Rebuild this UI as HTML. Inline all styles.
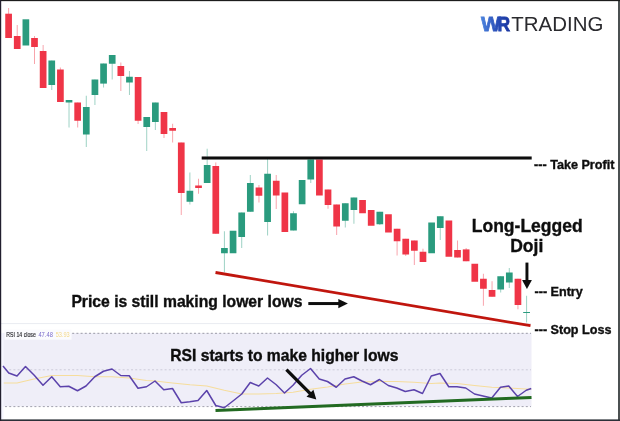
<!DOCTYPE html>
<html><head><meta charset="utf-8"><title>chart</title>
<style>
html,body{margin:0;padding:0;background:#fff;}
body{width:620px;height:421px;overflow:hidden;font-family:"Liberation Sans",sans-serif;}
svg{display:block;will-change:transform}
text{font-family:"Liberation Sans",sans-serif;}
.b{font-weight:bold;fill:#0c0c0c;stroke:#0c0c0c;stroke-width:0.35px}
</style></head><body>
<svg width="620" height="421" viewBox="0 0 620 421">
<defs>
<linearGradient id="lg" gradientUnits="userSpaceOnUse" x1="481" y1="0" x2="510" y2="0"><stop offset="0" stop-color="#4c84de"/><stop offset="0.55" stop-color="#2a4fb8"/><stop offset="1" stop-color="#18339f"/></linearGradient>
<filter id="soft" x="-2%" y="-2%" width="104%" height="104%"><feGaussianBlur stdDeviation="0.35"/></filter>
</defs>
<rect x="0" y="0" width="620" height="421" fill="#ffffff"/>
<g filter="url(#soft)">
<!-- RSI panel -->
<rect x="1" y="333" width="530.5" height="73.5" fill="#efeef8"/>
<rect x="1" y="333" width="2.5" height="86" fill="#f6f6ff"/>
<line x1="1" y1="323.6" x2="531" y2="323.6" stroke="#e9ecf1" stroke-width="1"/>
<line x1="5" y1="333.3" x2="531" y2="333.3" stroke="#9a9aa6" stroke-width="1" stroke-dasharray="2 2.2"/>
<line x1="5" y1="369.8" x2="531" y2="369.8" stroke="#cccbd9" stroke-width="1" stroke-dasharray="2 2.2"/>
<line x1="5" y1="406.6" x2="531" y2="406.6" stroke="#a2a2ae" stroke-width="1" stroke-dasharray="2 2.2"/>
<rect x="4.5" y="329.5" width="67" height="10.2" fill="#fbfbfe"/>
<text x="6.3" y="336.5" font-size="7.5" fill="#26262c" stroke="#26262c" stroke-width="0.15" textLength="29.5" lengthAdjust="spacingAndGlyphs">RSI 14 close</text>
<text x="38.4" y="336.5" font-size="7.5" fill="#7a6ccc" textLength="14.5" lengthAdjust="spacingAndGlyphs">47.48</text>
<text x="55.7" y="336.5" font-size="7.5" fill="#f4d988" textLength="14" lengthAdjust="spacingAndGlyphs">53.93</text>
<polyline points="3.75,383 17,383 34,379 51.75,375.5 77.5,375.5 94.75,376.75 112,376.75 129.25,378 146.5,380.5 155,381 172.5,383 190,384.75 206.75,386 224.25,390.25 241.75,394 258.75,394 276.25,393.5 293,392.25 310.5,389.3 327.5,387 345,384 362,382 379.5,381.5 396.75,381.5 414,382.25 431.25,383.5 440,383 457,383.5 474.5,385.5 491.75,387.25 508.75,388 526.25,389 531.25,389.25" fill="none" stroke="#f6dd9c" stroke-width="1.1" stroke-linejoin="round"/>
<polyline points="3,366 8.75,373 17,376 25.5,366.5 34.25,375.25 43,385.25 51.75,376.75 60.25,386.75 68.75,386.25 77.5,390.75 86,386 94.75,376.75 103.5,371.25 112,369 120.75,375.5 129.25,375.75 138,388.25 146.5,386.75 155,381 163.75,389.75 172.5,388.5 181.25,402.75 189.75,401.75 198,400.5 206.75,390.5 215.75,405.5 224.25,407.75 233,401 241.75,394 250.25,382.5 258.75,386 267.5,378 276.25,384.75 284.5,393 293,385.25 301.75,375.25 310.5,368.5 319.25,379 327.5,381.5 336.25,387.25 345,379 353.75,376.75 362,381 370.5,384.75 379.5,379.5 388.25,385.5 396.75,388 405.25,391.5 414,389.75 422.5,393.5 431.25,376 440,373.5 448.75,386.75 457,386.75 465.75,388 474.5,394 483,396 491.75,398 500.5,387.25 508.75,386 517.5,396.5 526.25,390.25 531.25,388.5" fill="none" stroke="#5b43ab" stroke-width="1.5" stroke-linejoin="round"/>
<line x1="215.5" y1="410.4" x2="531.5" y2="397.5" stroke="#216a20" stroke-width="3"/>
<!-- candles -->
<line x1="8.60" y1="8" x2="8.60" y2="38" stroke="#ef3546" stroke-width="0.9" stroke-opacity="0.5"/>
<rect x="5.25" y="13.7" width="6.7" height="24.30" fill="#ef3546"/>
<line x1="17.23" y1="25" x2="17.23" y2="49" stroke="#ef3546" stroke-width="0.9" stroke-opacity="0.5"/>
<rect x="13.88" y="36" width="6.7" height="13.00" fill="#ef3546"/>
<rect x="22.52" y="19.3" width="6.7" height="26.20" fill="#2a9b7e"/>
<line x1="34.50" y1="36" x2="34.50" y2="64" stroke="#ef3546" stroke-width="0.9" stroke-opacity="0.5"/>
<rect x="31.15" y="38" width="6.7" height="9.00" fill="#ef3546"/>
<line x1="43.13" y1="45" x2="43.13" y2="88" stroke="#ef3546" stroke-width="0.9" stroke-opacity="0.5"/>
<rect x="39.78" y="51" width="6.7" height="37.00" fill="#ef3546"/>
<line x1="51.76" y1="60.5" x2="51.76" y2="90" stroke="#2a9b7e" stroke-width="0.9" stroke-opacity="0.5"/>
<rect x="48.41" y="60.5" width="6.7" height="24.50" fill="#2a9b7e"/>
<line x1="60.40" y1="67.5" x2="60.40" y2="102" stroke="#ef3546" stroke-width="0.9" stroke-opacity="0.5"/>
<rect x="57.05" y="69.5" width="6.7" height="32.50" fill="#ef3546"/>
<line x1="69.03" y1="100" x2="69.03" y2="127.5" stroke="#2a9b7e" stroke-width="0.9" stroke-opacity="0.5"/>
<rect x="65.68" y="100" width="6.7" height="2.50" fill="#2a9b7e"/>
<line x1="77.66" y1="102.5" x2="77.66" y2="127.5" stroke="#ef3546" stroke-width="0.9" stroke-opacity="0.5"/>
<rect x="74.31" y="102.5" width="6.7" height="18.25" fill="#ef3546"/>
<line x1="86.30" y1="95.75" x2="86.30" y2="147" stroke="#2a9b7e" stroke-width="0.9" stroke-opacity="0.5"/>
<rect x="82.95" y="107" width="6.7" height="27.50" fill="#2a9b7e"/>
<line x1="94.93" y1="79.5" x2="94.93" y2="105" stroke="#2a9b7e" stroke-width="0.9" stroke-opacity="0.5"/>
<rect x="91.58" y="79.5" width="6.7" height="15.50" fill="#2a9b7e"/>
<line x1="103.56" y1="63.5" x2="103.56" y2="87.5" stroke="#2a9b7e" stroke-width="0.9" stroke-opacity="0.5"/>
<rect x="100.21" y="63.5" width="6.7" height="20.10" fill="#2a9b7e"/>
<line x1="112.20" y1="55" x2="112.20" y2="79.5" stroke="#2a9b7e" stroke-width="0.9" stroke-opacity="0.5"/>
<rect x="108.85" y="55" width="6.7" height="8.75" fill="#2a9b7e"/>
<line x1="120.83" y1="62.5" x2="120.83" y2="91" stroke="#ef3546" stroke-width="0.9" stroke-opacity="0.5"/>
<rect x="117.48" y="66" width="6.7" height="10.00" fill="#ef3546"/>
<line x1="129.46" y1="71" x2="129.46" y2="95" stroke="#2a9b7e" stroke-width="0.9" stroke-opacity="0.5"/>
<rect x="126.11" y="76.75" width="6.7" height="5.75" fill="#2a9b7e"/>
<line x1="138.09" y1="77" x2="138.09" y2="124" stroke="#ef3546" stroke-width="0.9" stroke-opacity="0.5"/>
<rect x="134.74" y="77" width="6.7" height="43.75" fill="#ef3546"/>
<line x1="146.73" y1="117" x2="146.73" y2="151" stroke="#2a9b7e" stroke-width="0.9" stroke-opacity="0.5"/>
<rect x="143.38" y="117" width="6.7" height="10.00" fill="#2a9b7e"/>
<line x1="155.36" y1="102.5" x2="155.36" y2="130" stroke="#2a9b7e" stroke-width="0.9" stroke-opacity="0.5"/>
<rect x="152.01" y="102.5" width="6.7" height="19.50" fill="#2a9b7e"/>
<line x1="163.99" y1="112" x2="163.99" y2="138" stroke="#ef3546" stroke-width="0.9" stroke-opacity="0.5"/>
<rect x="160.64" y="112" width="6.7" height="22.00" fill="#ef3546"/>
<line x1="172.63" y1="123.75" x2="172.63" y2="142.5" stroke="#ef3546" stroke-width="0.9" stroke-opacity="0.5"/>
<rect x="169.28" y="128" width="6.7" height="2.75" fill="#ef3546"/>
<line x1="181.26" y1="142.5" x2="181.26" y2="215" stroke="#ef3546" stroke-width="0.9" stroke-opacity="0.5"/>
<rect x="177.91" y="142.5" width="6.7" height="50.50" fill="#ef3546"/>
<line x1="189.89" y1="172.5" x2="189.89" y2="204.5" stroke="#2a9b7e" stroke-width="0.9" stroke-opacity="0.5"/>
<rect x="186.54" y="190.75" width="6.7" height="11.00" fill="#2a9b7e"/>
<line x1="198.53" y1="178.75" x2="198.53" y2="193.75" stroke="#ef3546" stroke-width="0.9" stroke-opacity="0.5"/>
<rect x="195.18" y="185.5" width="6.7" height="2.50" fill="#ef3546"/>
<line x1="207.16" y1="148.75" x2="207.16" y2="183" stroke="#2a9b7e" stroke-width="0.9" stroke-opacity="0.5"/>
<rect x="203.81" y="165" width="6.7" height="18.00" fill="#2a9b7e"/>
<line x1="215.79" y1="162.5" x2="215.79" y2="233.75" stroke="#ef3546" stroke-width="0.9" stroke-opacity="0.5"/>
<rect x="212.44" y="166" width="6.7" height="67.75" fill="#ef3546"/>
<line x1="224.42" y1="231.25" x2="224.42" y2="272.3" stroke="#2a9b7e" stroke-width="0.9" stroke-opacity="0.5"/>
<rect x="221.07" y="248" width="6.7" height="5.25" fill="#2a9b7e"/>
<rect x="229.71" y="230.75" width="6.7" height="22.50" fill="#2a9b7e"/>
<line x1="241.69" y1="212.5" x2="241.69" y2="248" stroke="#2a9b7e" stroke-width="0.9" stroke-opacity="0.5"/>
<rect x="238.34" y="212.5" width="6.7" height="24.50" fill="#2a9b7e"/>
<line x1="250.32" y1="175" x2="250.32" y2="211.75" stroke="#2a9b7e" stroke-width="0.9" stroke-opacity="0.5"/>
<rect x="246.97" y="183" width="6.7" height="28.75" fill="#2a9b7e"/>
<line x1="258.96" y1="185" x2="258.96" y2="202.5" stroke="#ef3546" stroke-width="0.9" stroke-opacity="0.5"/>
<rect x="255.61" y="187.5" width="6.7" height="8.25" fill="#ef3546"/>
<line x1="267.59" y1="158.75" x2="267.59" y2="235.5" stroke="#2a9b7e" stroke-width="0.9" stroke-opacity="0.5"/>
<rect x="264.24" y="173.75" width="6.7" height="48.25" fill="#2a9b7e"/>
<line x1="276.22" y1="175" x2="276.22" y2="209" stroke="#ef3546" stroke-width="0.9" stroke-opacity="0.5"/>
<rect x="272.87" y="180.75" width="6.7" height="14.75" fill="#ef3546"/>
<rect x="281.51" y="192.5" width="6.7" height="39.50" fill="#ef3546"/>
<line x1="293.49" y1="211.25" x2="293.49" y2="230.5" stroke="#2a9b7e" stroke-width="0.9" stroke-opacity="0.5"/>
<rect x="290.14" y="213.25" width="6.7" height="17.25" fill="#2a9b7e"/>
<rect x="298.77" y="180" width="6.7" height="24.25" fill="#2a9b7e"/>
<line x1="310.75" y1="159.5" x2="310.75" y2="183" stroke="#2a9b7e" stroke-width="0.9" stroke-opacity="0.5"/>
<rect x="307.40" y="159.5" width="6.7" height="20.00" fill="#2a9b7e"/>
<rect x="316.04" y="159.5" width="6.7" height="36.00" fill="#ef3546"/>
<line x1="328.02" y1="189.5" x2="328.02" y2="208.75" stroke="#ef3546" stroke-width="0.9" stroke-opacity="0.5"/>
<rect x="324.67" y="189.5" width="6.7" height="15.50" fill="#ef3546"/>
<line x1="336.65" y1="204.5" x2="336.65" y2="235" stroke="#ef3546" stroke-width="0.9" stroke-opacity="0.5"/>
<rect x="333.30" y="204.5" width="6.7" height="22.00" fill="#ef3546"/>
<line x1="345.29" y1="203.25" x2="345.29" y2="227.5" stroke="#2a9b7e" stroke-width="0.9" stroke-opacity="0.5"/>
<rect x="341.94" y="203.25" width="6.7" height="17.50" fill="#2a9b7e"/>
<line x1="353.92" y1="197.5" x2="353.92" y2="223.75" stroke="#2a9b7e" stroke-width="0.9" stroke-opacity="0.5"/>
<rect x="350.57" y="197.5" width="6.7" height="12.50" fill="#2a9b7e"/>
<rect x="359.20" y="200" width="6.7" height="13.25" fill="#ef3546"/>
<rect x="367.84" y="210" width="6.7" height="15.75" fill="#ef3546"/>
<line x1="379.82" y1="211.75" x2="379.82" y2="225" stroke="#2a9b7e" stroke-width="0.9" stroke-opacity="0.5"/>
<rect x="376.47" y="211.75" width="6.7" height="12.50" fill="#2a9b7e"/>
<rect x="385.10" y="214.25" width="6.7" height="18.25" fill="#ef3546"/>
<line x1="397.08" y1="228.75" x2="397.08" y2="255.5" stroke="#ef3546" stroke-width="0.9" stroke-opacity="0.5"/>
<rect x="393.73" y="228.75" width="6.7" height="12.50" fill="#ef3546"/>
<line x1="405.72" y1="238.75" x2="405.72" y2="256" stroke="#ef3546" stroke-width="0.9" stroke-opacity="0.5"/>
<rect x="402.37" y="238.75" width="6.7" height="15.75" fill="#ef3546"/>
<line x1="414.35" y1="240.5" x2="414.35" y2="265" stroke="#ef3546" stroke-width="0.9" stroke-opacity="0.5"/>
<rect x="411.00" y="240.5" width="6.7" height="10.25" fill="#ef3546"/>
<line x1="422.98" y1="248.75" x2="422.98" y2="262" stroke="#ef3546" stroke-width="0.9" stroke-opacity="0.5"/>
<rect x="419.63" y="251.75" width="6.7" height="10.25" fill="#ef3546"/>
<rect x="428.27" y="222.5" width="6.7" height="30.75" fill="#2a9b7e"/>
<line x1="440.25" y1="216.25" x2="440.25" y2="240" stroke="#2a9b7e" stroke-width="0.9" stroke-opacity="0.5"/>
<rect x="436.90" y="216.25" width="6.7" height="11.75" fill="#2a9b7e"/>
<rect x="445.53" y="220.5" width="6.7" height="36.25" fill="#ef3546"/>
<line x1="457.52" y1="240.5" x2="457.52" y2="257.5" stroke="#ef3546" stroke-width="0.9" stroke-opacity="0.5"/>
<rect x="454.17" y="250" width="6.7" height="7.50" fill="#ef3546"/>
<line x1="466.15" y1="248" x2="466.15" y2="261.25" stroke="#ef3546" stroke-width="0.9" stroke-opacity="0.5"/>
<rect x="462.80" y="249.4" width="6.7" height="11.85" fill="#ef3546"/>
<rect x="471.43" y="263.75" width="6.7" height="18.00" fill="#ef3546"/>
<line x1="483.41" y1="273.75" x2="483.41" y2="305.75" stroke="#ef3546" stroke-width="0.9" stroke-opacity="0.5"/>
<rect x="480.06" y="278.75" width="6.7" height="10.00" fill="#ef3546"/>
<line x1="492.05" y1="281.25" x2="492.05" y2="296.75" stroke="#ef3546" stroke-width="0.9" stroke-opacity="0.5"/>
<rect x="488.70" y="290" width="6.7" height="6.75" fill="#ef3546"/>
<line x1="500.68" y1="276.25" x2="500.68" y2="292.5" stroke="#2a9b7e" stroke-width="0.9" stroke-opacity="0.5"/>
<rect x="497.33" y="276.25" width="6.7" height="13.25" fill="#2a9b7e"/>
<line x1="509.31" y1="268" x2="509.31" y2="288" stroke="#2a9b7e" stroke-width="0.9" stroke-opacity="0.5"/>
<rect x="505.96" y="272.5" width="6.7" height="10.00" fill="#2a9b7e"/>
<line x1="517.95" y1="278.75" x2="517.95" y2="309.25" stroke="#ef3546" stroke-width="0.9" stroke-opacity="0.5"/>
<rect x="514.60" y="278.75" width="6.7" height="26.25" fill="#ef3546"/>
<line x1="526.58" y1="295.75" x2="526.58" y2="322.5" stroke="#2a9b7e" stroke-width="0.9" stroke-opacity="0.5"/>
<rect x="523.18" y="312" width="6.8" height="1.00" fill="#2a9b7e"/>
<!-- lines -->
<line x1="201.7" y1="158.0" x2="531.7" y2="158.0" stroke="#0c0c0c" stroke-width="2.8"/>
<line x1="215.5" y1="272.5" x2="530.5" y2="325.7" stroke="#c01410" stroke-width="2.8"/>
<!-- texts -->
<text class="b" x="534.1" y="169.1" font-size="12.6">--- Take Profit</text>
<text class="b" x="534.5" y="295.8" font-size="12.6">--- Entry</text>
<text class="b" x="534.5" y="334.1" font-size="12.6">--- Stop Loss</text>
<text class="b" x="471.8" y="231.8" font-size="17.5">Long-Legged</text>
<text class="b" x="510.2" y="251.6" font-size="17.5">Doji</text>
<text class="b" x="71.4" y="307.3" font-size="15.7">Price is still making lower lows</text>
<text class="b" x="170.2" y="361" font-size="15.68">RSI starts to make higher lows</text>
<!-- arrows -->
<line x1="526.95" y1="262.6" x2="526.95" y2="282" stroke="#0c0c0c" stroke-width="2.9"/>
<path d="M522.1 280.1 L531.9 280.1 L526.95 289 Z" fill="#0c0c0c"/>
<line x1="308.3" y1="303.55" x2="340" y2="303.55" stroke="#0c0c0c" stroke-width="3"/>
<path d="M338.3 298.9 L347.9 303.55 L338.3 308.2 Z" fill="#0c0c0c"/>
<line x1="286.4" y1="369.7" x2="311" y2="394.3" stroke="#0c0c0c" stroke-width="3.3"/>
<path d="M316.3 399.6 L313.4 389.8 L306.5 396.7 Z" fill="#0c0c0c"/>
<!-- logo -->
<text x="480.9" y="31.2" font-size="21" font-weight="bold" fill="url(#lg)" stroke="url(#lg)" stroke-width="0.8" textLength="19.6" lengthAdjust="spacingAndGlyphs">W</text>
<text x="497.6" y="31.2" font-size="21" font-weight="bold" fill="url(#lg)" stroke="url(#lg)" stroke-width="0.8" textLength="12.6" lengthAdjust="spacingAndGlyphs">R</text>
<text x="511.3" y="31.1" font-size="20.8" fill="#2a2a2e" textLength="92" lengthAdjust="spacingAndGlyphs">TRADING</text>
</g>
<!-- borders -->
<rect x="618" y="0" width="2" height="421" fill="#4b5051"/>
<rect x="0" y="419.4" width="620" height="1.6" fill="#2c3038"/>
<rect x="0" y="0" width="620" height="1.15" fill="#1c1c1c"/>
<rect x="0" y="0" width="1.2" height="421" fill="#221f2e"/>
</svg>
</body></html>
